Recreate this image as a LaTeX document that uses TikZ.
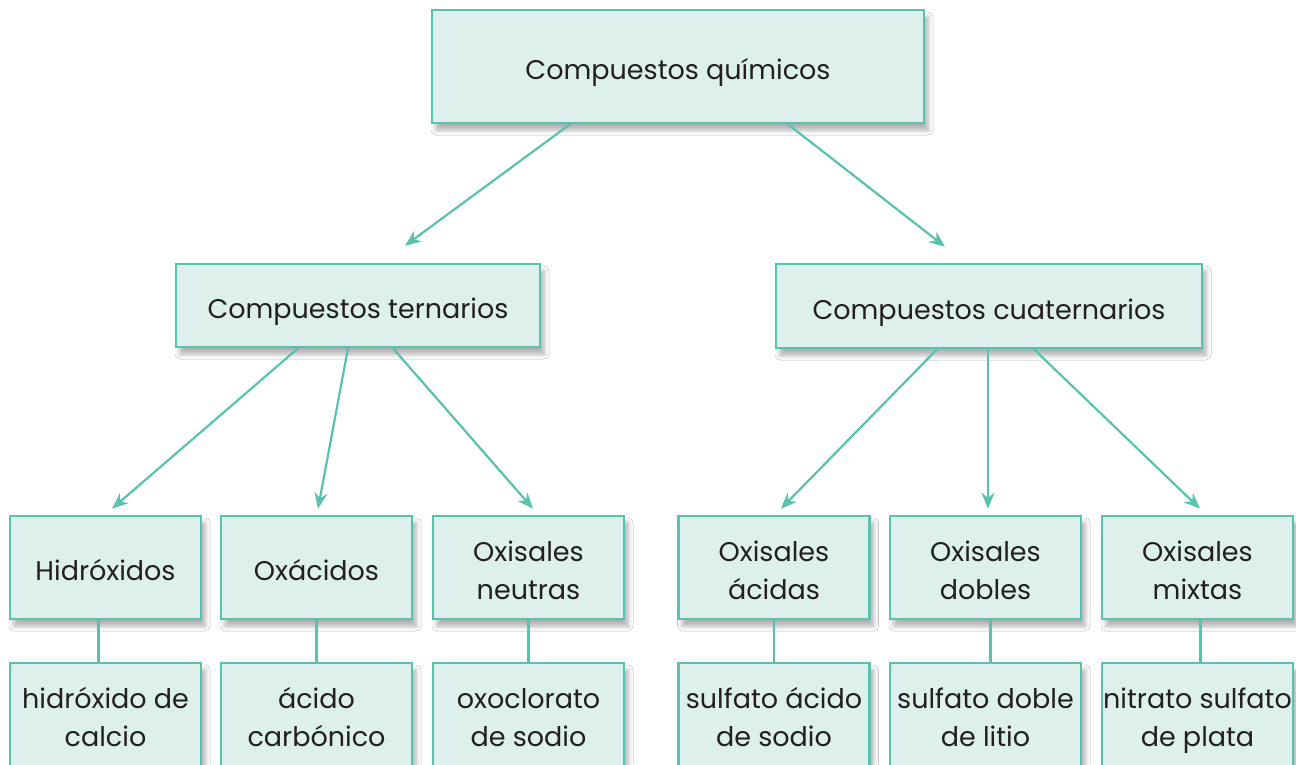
\documentclass[tikz,border=0pt]{standalone}
\usepackage{fontspec}
\setmainfont{Poppins}
\usepackage{xcolor}
\usepackage{tikz}
\usetikzlibrary{arrows.meta,shadows.blur}
\definecolor{tealline}{HTML}{58C2AD}
\definecolor{tealfill}{HTML}{DDF0EB}
\definecolor{inkgray}{HTML}{231F20}
\newcommand{\boxstrut}{\rule[-8pt]{0pt}{42pt}}

\begin{document}
\begin{tikzpicture}[
  x=1pt, y=-1pt,
  box/.style={draw=tealline, line width=2.6pt, fill=tealfill, inner sep=0pt,
    align=center, text=inkgray, font=\fontsize{27}{38}\selectfont,
    execute at begin node=\boxstrut, execute at end node=\boxstrut,
    blur shadow={shadow xshift=4pt, shadow yshift=-7pt, shadow blur radius=5pt, shadow opacity=32}},
  leaf/.style={box, minimum width=191pt, minimum height=103pt},
  pair/.style={leaf, execute at begin node={}, execute at end node={},
    text height=72pt, text depth=8pt},
  arr/.style={-{Stealth[length=16pt, width=13pt]}, draw=tealline, line width=2.2pt},
  lnk/.style={draw=tealline, line width=2.6pt},
]
\clip (0,0) rectangle (1296,764);
\fill[white] (0,0) rectangle (1296,764);
\node[box, minimum width=492pt, minimum height=113pt] (qui) at (678,66.5) {Compuestos químicos};
\node[box, minimum width=364pt, minimum height=83pt] (ter) at (358,305.5) {Compuestos ternarios};
\node[box, minimum width=426pt, minimum height=84pt] (cua) at (989,306) {Compuestos cuaternarios};
\node[leaf] (hid) at (105.5,567.5) {Hidróxidos};
\node[leaf] (oxa) at (316.5,567.5) {Oxácidos};
\node[pair] (neu) at (528.5,567.5) {Oxisales\\ neutras};
\node[pair] (aci) at (774,567.5) {Oxisales\\ ácidas};
\node[pair] (dob) at (985.5,567.5) {Oxisales\\ dobles};
\node[pair] (mix) at (1197.5,567.5) {Oxisales\\ mixtas};
\node[pair] (ehid) at (105.5,714.5) {hidróxido de\\ calcio};
\node[pair] (eoxa) at (316.5,714.5) {ácido\\ carbónico};
\node[pair] (eneu) at (528.5,714.5) {oxoclorato\\ de sodio};
\node[pair] (eaci) at (774,714.5) {sulfato ácido\\ de sodio};
\node[pair] (edob) at (985.5,714.5) {sulfato doble\\ de litio};
\node[pair] (emix) at (1197.5,714.5) {nitrato sulfato\\ de plata};
\draw[arr] ([xshift=-108pt]qui.south) -- ([xshift=47pt,yshift=17pt]ter.north);
\draw[arr] ([xshift=110pt]qui.south) -- ([xshift=-44pt,yshift=16pt]cua.north);
\draw[arr] ([xshift=-60pt]ter.south) -- ([xshift=6.5pt,yshift=6pt]hid.north);
\draw[arr] ([xshift=-10pt]ter.south) -- ([xshift=1.5pt,yshift=6pt]oxa.north);
\draw[arr] ([xshift=35pt]ter.south) -- ([xshift=4.5pt,yshift=6pt]neu.north);
\draw[arr] ([xshift=-52pt]cua.south) -- ([xshift=7pt,yshift=6pt]aci.north);
\draw[arr] ([xshift=-1pt]cua.south) -- ([xshift=2.5pt,yshift=6pt]dob.north);
\draw[arr] ([xshift=45pt]cua.south) -- ([xshift=2.5pt,yshift=6pt]mix.north);
\draw[lnk] ([xshift=-7pt]hid.south) -- ([xshift=-7pt]ehid.north);
\draw[lnk] (oxa.south) -- (eoxa.north);
\draw[lnk] (neu.south) -- (eneu.north);
\draw[lnk] (aci.south) -- (eaci.north);
\draw[lnk] ([xshift=5pt]dob.south) -- ([xshift=5pt]edob.north);
\draw[lnk] ([xshift=3pt]mix.south) -- ([xshift=3pt]emix.north);
\end{tikzpicture}
\end{document}
